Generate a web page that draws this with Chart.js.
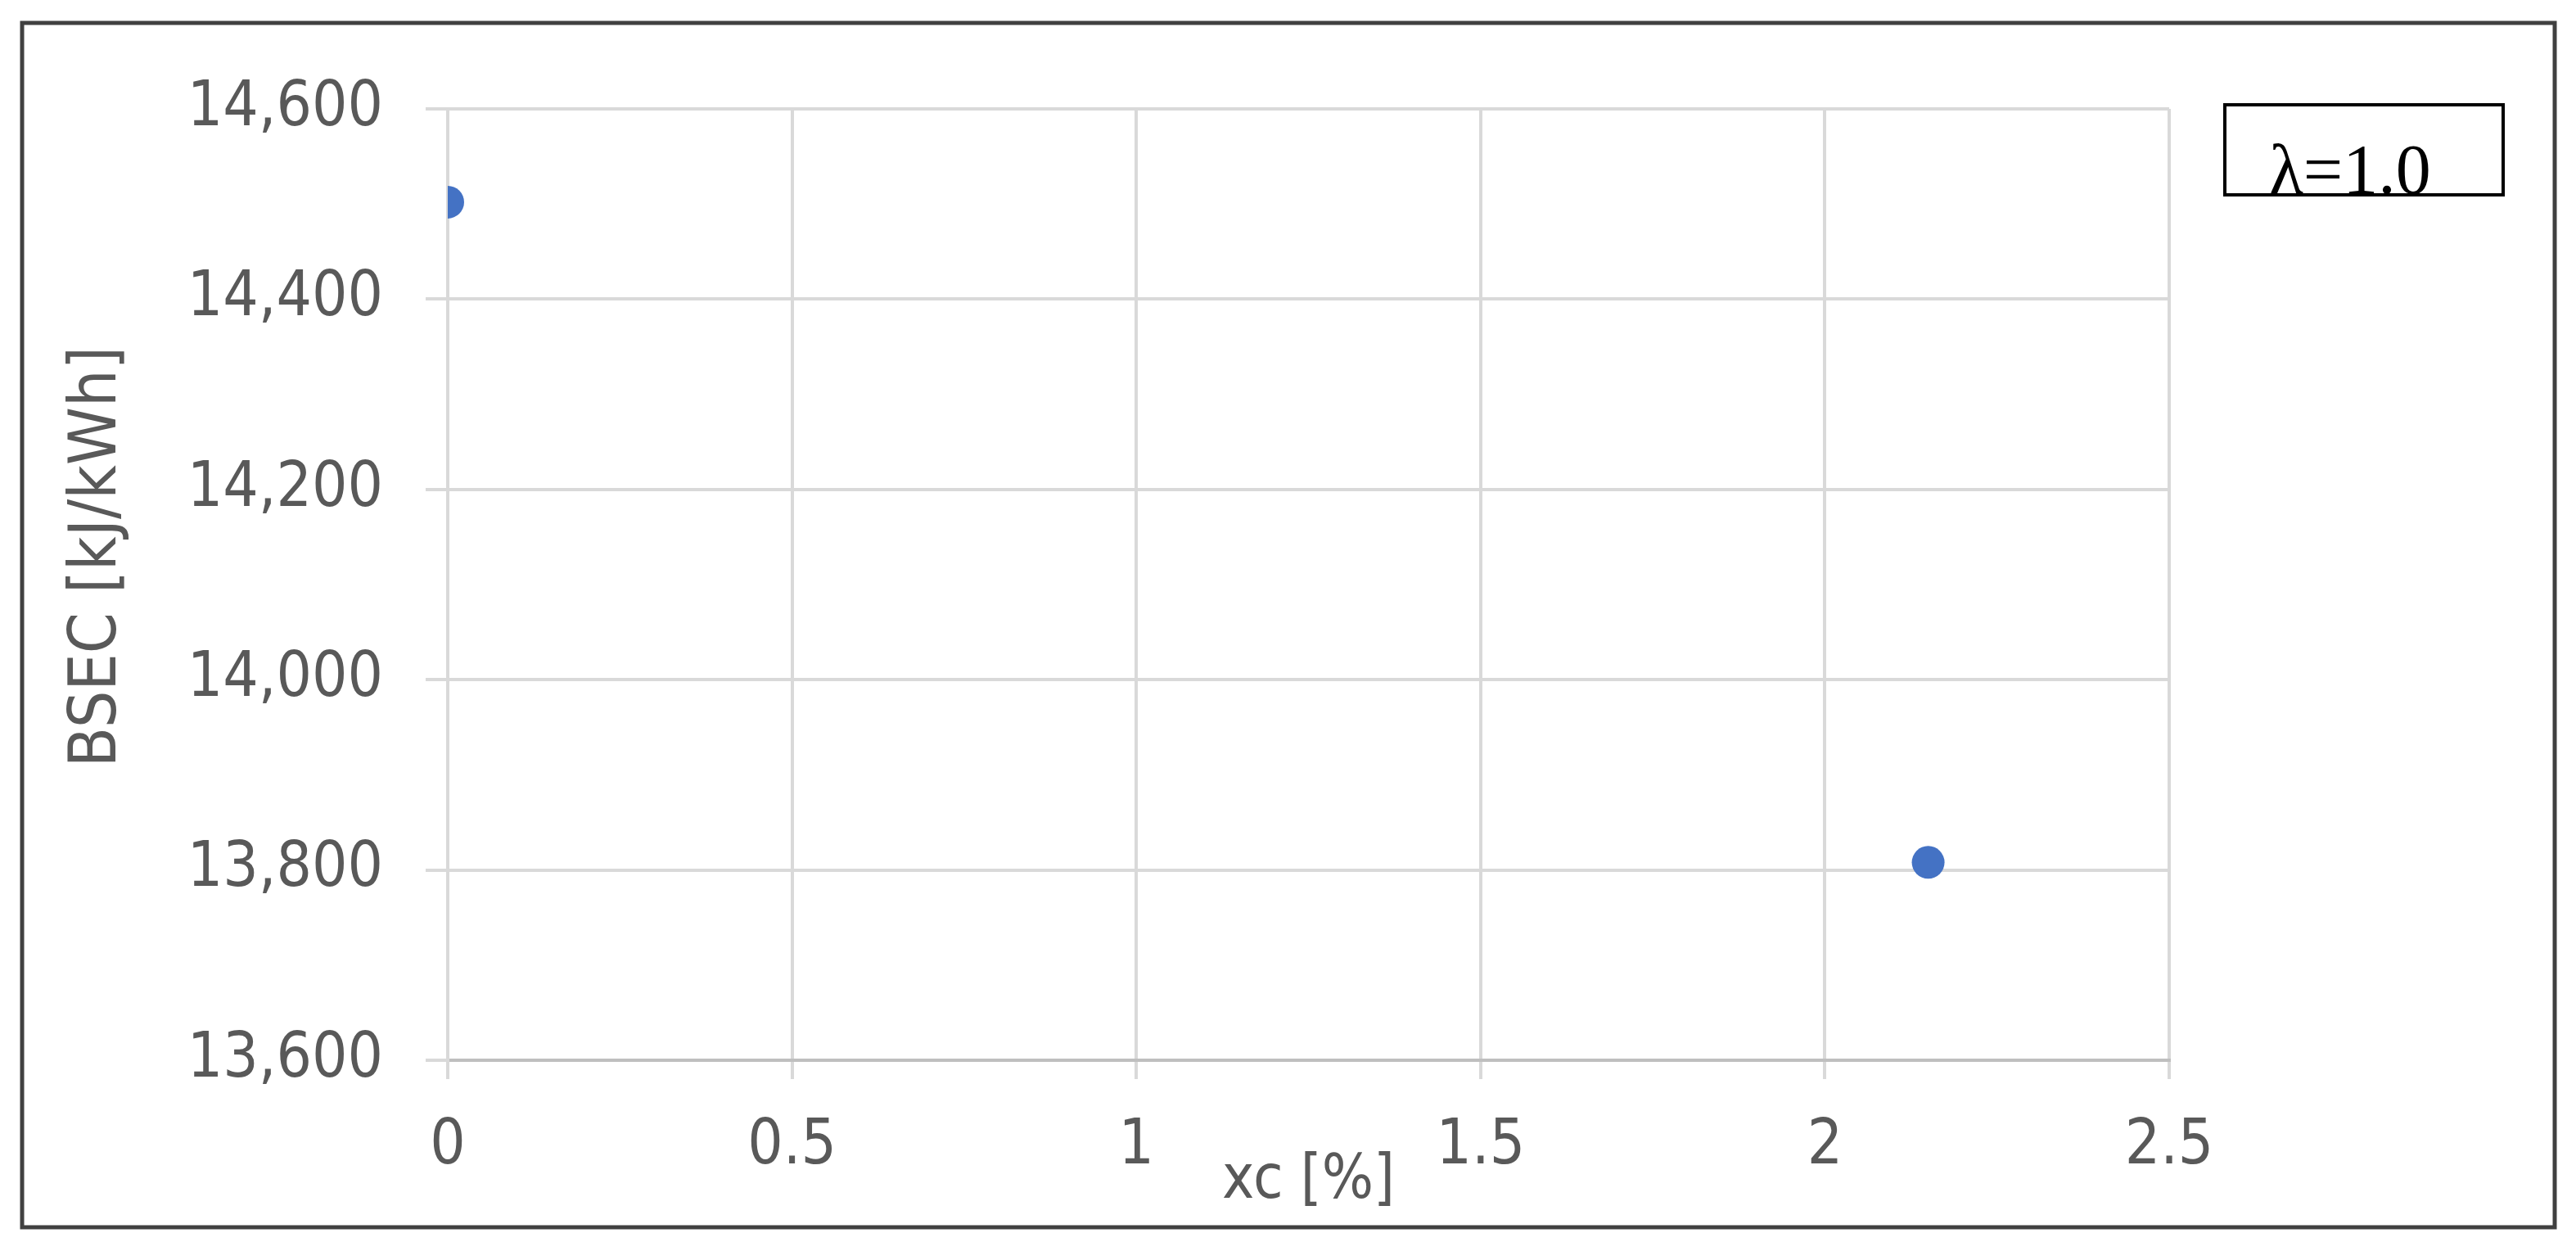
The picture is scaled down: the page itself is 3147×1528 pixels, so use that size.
<!DOCTYPE html>
<html>
<head>
<meta charset="utf-8">
<title>BSEC vs xc</title>
<script src="https://cdn.jsdelivr.net/npm/chart.js@4.4.1/dist/chart.umd.min.js"></script>
<style>
  html, body { margin: 0; padding: 0; background: #fff; }
  canvas { display: block; }
</style>
</head>
<body>
<canvas id="myChart" width="3147" height="1528"></canvas>
<script>
// data
const xcValues = [0, 2.15];
const bsecValues = [14502, 13808];
const xTicks = [0, 0.5, 1, 1.5, 2, 2.5];
const yTicks = [13600, 13800, 14000, 14200, 14400, 14600];
const seriesLabel = 'λ=1.0';
const xTitle = 'xc [%]';
const yTitle = 'BSEC [kJ/kWh]';

const labelFont = "'DejaVu Sans Condensed', 'DejaVu Sans', sans-serif";
const textGrey = '#595959';
const gridGrey = '#d9d9d9';

// outer frame, rotated y title and the λ box
const frameAndNotes = {
    id: 'frameAndNotes',
    afterDraw(chart) {
        const ctx = chart.ctx;
        const area = chart.chartArea;

        ctx.save();
        ctx.strokeStyle = '#404040';
        ctx.lineWidth = 5;
        ctx.strokeRect(27, 28, 3094, 1471);
        ctx.restore();

        // Excel put the title a bit above the middle of the axis
        ctx.save();
        ctx.fillStyle = textGrey;
        ctx.font = '80px ' + labelFont;
        ctx.textAlign = 'center';
        ctx.textBaseline = 'middle';
        ctx.translate(120, area.top + 0.471 * (area.bottom - area.top));
        ctx.rotate(-Math.PI / 2);
        ctx.fillText(yTitle, 0, 0);
        ctx.restore();

        ctx.save();
        ctx.strokeStyle = '#000';
        ctx.lineWidth = 4;
        ctx.strokeRect(2718, 128, 340, 110);
        ctx.fillStyle = '#000';
        ctx.font = "86px 'Liberation Serif', 'DejaVu Serif', serif";
        ctx.textAlign = 'center';
        ctx.textBaseline = 'alphabetic';
        ctx.fillText(chart.data.datasets[0].label, 2871, 236);
        ctx.restore();
    }
};

const ctx = document.getElementById('myChart').getContext('2d');

const myChart = new Chart(ctx, {
    type: 'scatter',
    data: {
        datasets: [{
            label: seriesLabel,
            data: xcValues.map((x, i) => ({ x: x, y: bsecValues[i] })),
            backgroundColor: '#4472c4',
            borderWidth: 0,
            pointRadius: 20,
            pointHoverRadius: 20
        }]
    },
    options: {
        responsive: false,
        animation: false,
        layout: {
            padding: { left: 0, top: 133, right: 497, bottom: 0 }
        },
        plugins: {
            legend: { display: false },
            tooltip: { enabled: false }
        },
        scales: {
            x: {
                type: 'linear',
                position: 'bottom',
                min: xTicks[0],
                max: xTicks[xTicks.length - 1],
                afterBuildTicks: s => { s.ticks = xTicks.map(v => ({ value: v })); },
                afterFit: s => { s.height = 233; },
                grid: { color: gridGrey, lineWidth: 4, tickLength: 23, tickColor: gridGrey },
                border: { color: '#bfbfbf', width: 4 },
                ticks: {
                    color: textGrey,
                    font: { family: labelFont, size: 76 },
                    padding: 38,
                    maxRotation: 0,
                    callback: v => String(v)
                },
                title: {
                    display: true,
                    text: xTitle,
                    color: textGrey,
                    font: { family: labelFont, size: 74 },
                    padding: { top: 0, bottom: 40 }
                }
            },
            y: {
                type: 'linear',
                min: yTicks[0],
                max: yTicks[yTicks.length - 1],
                afterBuildTicks: s => { s.ticks = yTicks.map(v => ({ value: v })); },
                afterFit: s => { s.width = 547; },
                grid: { color: gridGrey, lineWidth: 4, tickLength: 27, tickColor: gridGrey },
                border: { color: gridGrey, width: 4 },
                ticks: {
                    color: textGrey,
                    font: { family: labelFont, size: 76 },
                    padding: 52,
                    callback: v => v.toLocaleString('en-US')
                }
            }
        }
    },
    plugins: [frameAndNotes]
});
</script>
</body>
</html>
